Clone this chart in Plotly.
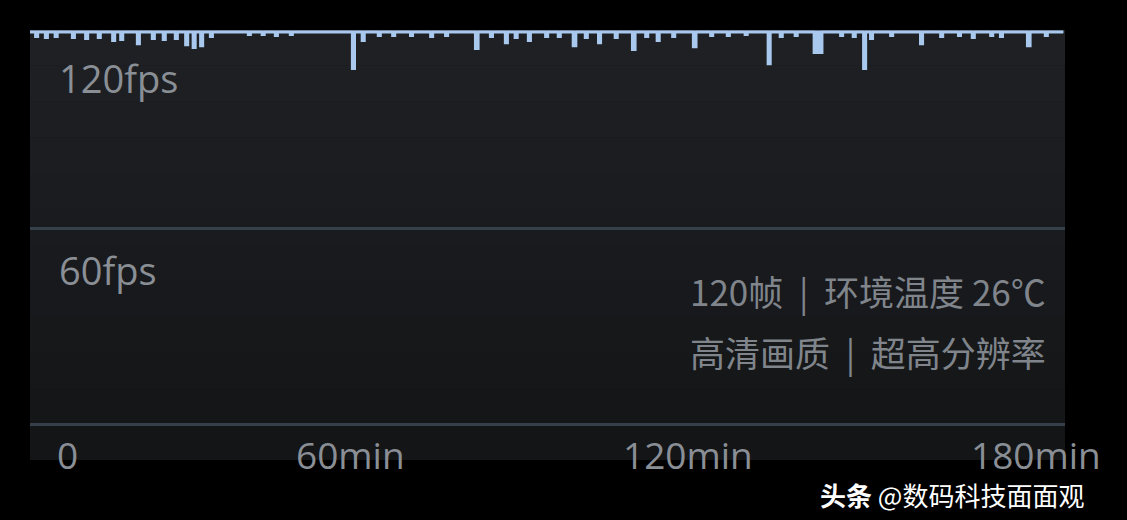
import plotly.graph_objects as go

# Frame-rate trace (minutes, fps) — step series
minutes = [0, 0.9, 1.4, 2.6, 3.1, 4.3, 4.8, 7.3, 7.8, 9.6, 10.1, 11.8, 12.3, 14.3, 14.8,
           15.7, 16.2, 18.6, 19.1, 21.2, 21.7, 23.1, 23.6, 25.2, 25.7, 27.0, 27.5,
           28.3, 28.8, 29.6, 30.1, 31.3, 31.8, 37.9, 38.4, 40.3, 40.8, 42.6, 43.1,
           45.2, 45.7, 56.0, 56.5, 57.7, 58.2, 60.5, 61.0, 63.0, 63.5, 66.1, 66.6,
           69.6, 70.1, 72.2, 72.7, 77.4, 78.0, 80.0, 80.5, 82.6, 83.1, 84.3, 84.8,
           86.6, 87.1, 89.6, 90.1, 91.8, 92.3, 94.4, 95.0, 96.5, 97.0, 98.8, 99.3,
           101.7, 102.2, 104.7, 105.3, 107.0, 107.5, 109.0, 109.5, 111.7, 112.2,
           115.3, 115.9, 118.3, 118.8, 121.2, 121.7, 124.3, 124.8, 128.3, 128.8,
           130.4, 130.9, 133.0, 133.5, 136.3, 137.8, 140.9, 141.4, 143.1, 143.6,
           144.9, 145.4, 146.1, 146.6, 149.6, 150.1, 154.8, 155.3, 158.3, 158.8,
           161.4, 161.9, 163.8, 164.3, 167.0, 167.5, 168.7, 169.2, 173.4, 174.0,
           176.5, 177.0, 179.7]
fps = [120, 118.5, 120, 118.2, 120, 118.5, 120, 118.2, 120, 117.9, 120, 118.2, 120, 117.3, 120,
       117.6, 120, 116.3, 120, 117.9, 120, 117.6, 120, 117.9, 120, 116.0, 120,
       115.1, 120, 115.7, 120, 118.5, 120, 119.1, 120, 119.1, 120, 118.8, 120,
       119.1, 120, 108.7, 120, 117.3, 120, 118.8, 120, 118.8, 120, 118.8, 120,
       118.5, 120, 118.8, 120, 114.8, 120, 118.5, 120, 116.6, 120, 118.2, 120,
       117.3, 120, 118.5, 120, 118.5, 120, 115.7, 120, 118.2, 120, 116.6, 120,
       118.2, 120, 114.5, 120, 118.5, 120, 117.3, 120, 118.5, 120,
       115.4, 120, 118.8, 120, 118.8, 120, 119.1, 120, 110.2, 120,
       118.5, 120, 118.8, 120, 113.6, 120, 118.8, 120, 118.5, 120,
       108.7, 120, 117.9, 120, 118.8, 120, 116.3, 120, 118.5, 120,
       118.8, 120, 118.2, 120, 118.8, 120, 118.5, 120, 115.7, 120,
       118.8, 120, 120]
top_fps = [120, 120]
top_minutes = [0, 179.7]

# Axis labels
y_label_text = ["120fps", "60fps"]
y_label_pos = [106, 47.3]
x_label_text = ["0", "60min", "120min", "180min"]
x_label_pos = [6.6, 55.7, 114.4, 174.9]
grid_vals = [0, 60]

info_lines = ["120帧 &nbsp;|&nbsp; 环境温度 26℃", "高清画质 &nbsp;|&nbsp; 超高分辨率"]
info_pos = [41.2, 22.3]
watermark = "<b>头条</b> @数码科技面面观"

label_color = "#8a8f96"
font_latin = "Open Sans, Noto Sans, sans-serif"
font_cjk = "Noto Sans CJK SC, sans-serif"

# subtle vertical panel gradient (top lighter -> bottom darker)
panel_colors = ["#1e2023", "#1d1f22", "#1c1e21", "#1b1d20", "#1a1c1f", "#191b1e",
                "#181a1d", "#17191c", "#16181a", "#151719", "#141618", "#131517"]

fig = go.Figure()
fig.add_trace(go.Scatter(
    x=top_minutes, y=top_fps, mode="lines", line=dict(color="#a9c8ee", width=3),
    cliponaxis=False, hoverinfo="skip", showlegend=False))
fig.add_trace(go.Scatter(
    x=minutes, y=fps, mode="lines", line=dict(color="#a9c8ee", width=2.2, shape="hv"),
    fill="tonexty", fillcolor="#a9c8ee",
    cliponaxis=False, hoverinfo="skip", showlegend=False))

shapes = []
n = len(panel_colors)
for i, c in enumerate(panel_colors):
    shapes.append(dict(type="rect", xref="paper", yref="paper", layer="below",
                       x0=0, x1=1, y0=1 - (i + 1) / n, y1=1 - i / n,
                       fillcolor=c, line=dict(width=0)))

annotations = []
for t, v in zip(y_label_text, y_label_pos):
    annotations.append(dict(x=4.7, y=v, xref="x", yref="y", text=t, showarrow=False,
                            xanchor="left", yanchor="middle",
                            font=dict(family=font_latin, size=38, color=label_color)))
for t, v in zip(x_label_text, x_label_pos):
    annotations.append(dict(x=v, y=-9.15, xref="x", yref="y", text=t, showarrow=False,
                            xanchor="center", yanchor="middle",
                            font=dict(family=font_latin, size=37, color=label_color)))
for t, v in zip(info_lines, info_pos):
    annotations.append(dict(x=114.4, y=v, xref="x", yref="y", text=t, showarrow=False,
                            xanchor="left", yanchor="middle",
                            font=dict(family=font_cjk, size=35, color="#80858c")))
annotations.append(dict(x=0.761, y=-0.080, xref="paper", yref="paper", text=watermark,
                        showarrow=False, xanchor="left", yanchor="middle",
                        font=dict(family=font_cjk, size=26, color="#ffffff")))

fig.update_layout(
    width=1127, height=520,
    margin=dict(l=30, r=62, t=30, b=60),
    paper_bgcolor="#000000",
    plot_bgcolor="#18191c",
    xaxis=dict(range=[0, 180], showgrid=False, zeroline=False, showticklabels=False,
               ticks="", fixedrange=True),
    yaxis=dict(range=[-10.7, 120.6], tickvals=grid_vals, showgrid=True,
               gridcolor="#36404a", gridwidth=3, zeroline=False, showticklabels=False,
               ticks="", fixedrange=True),
    shapes=shapes,
    annotations=annotations,
)

fig.write_html("out.html", config={"displayModeBar": False},
               post_script="document.body.style.margin='0';document.body.style.background='#000';")
